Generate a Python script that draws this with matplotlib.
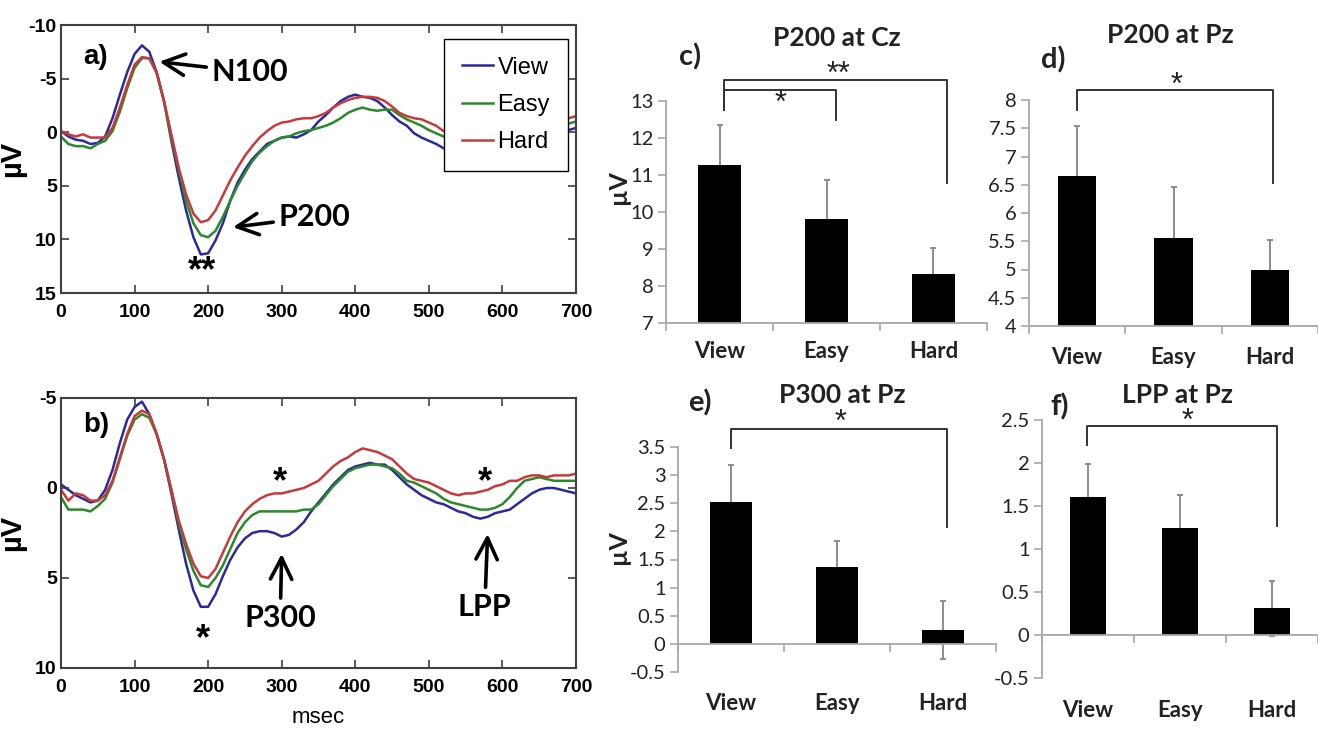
import matplotlib
matplotlib.use("Agg")
import matplotlib.pyplot as plt
import matplotlib.transforms as mtransforms

plt.rcParams["axes.unicode_minus"] = False

W, H = 1318, 731
narrow = ["Liberation Sans Narrow", "Liberation Sans", "DejaVu Sans"]
calib = ["Lato", "DejaVu Sans"]
sans = ["Liberation Sans", "DejaVu Sans"]

# ---------------- data ----------------
time = list(range(0, 701, 10))

# a) grand average at Cz (uV, positive down)
view_a = [-0.1, 0.4, 0.7, 0.8, 1.1, 1.0, 0.4, -1.3, -3.5, -5.6,
          -7.3, -8.1, -7.5, -5.6, -2.9, 0.8, 4.2, 7.3, 9.8, 11.4,
          11.3, 10.1, 8.5, 6.4, 4.7, 3.5, 2.5, 1.8, 1.1, 0.8,
          0.5, 0.4, 0.5, 0.2, -0.2, -1.0, -1.6, -2.3, -2.9, -3.3,
          -3.5, -3.3, -3.2, -2.9, -2.3, -1.6, -1.0, -0.6, 0.1, 0.5,
          0.8, 1.1, 1.5, 1.8, 2.1, 2.3, 2.4, 2.4, 2.3, 2.2,
          2.0, 1.8, 1.5, 1.2, 1.0, 0.8, 0.5, 0.3, 0.0, -0.2, -0.4]
easy_a = [0.4, 1.1, 1.3, 1.3, 1.5, 1.1, 0.8, -0.1, -1.9, -4.1,
          -6.0, -6.9, -6.9, -5.5, -2.9, 0.5, 3.5, 6.4, 8.5, 9.6,
          9.8, 9.2, 7.9, 6.4, 5.0, 3.8, 2.7, 1.9, 1.3, 0.8,
          0.5, 0.4, 0.1, -0.1, -0.2, -0.4, -0.6, -0.9, -1.3, -1.8,
          -2.1, -2.3, -2.1, -2.0, -2.1, -2.1, -1.6, -1.2, -0.9, -0.6,
          -0.2, 0.1, 0.4, 0.7, 0.8, 1.0, 1.1, 1.1, 1.1, 1.0,
          1.0, 0.9, 0.7, 0.6, 0.4, 0.3, 0.1, -0.2, -0.5, -0.8, -1.0]
hard_a = [-0.1, 0.2, 0.4, 0.2, 0.5, 0.5, 0.5, -0.4, -2.3, -4.4,
          -6.3, -7.0, -6.9, -5.6, -2.9, 0.2, 3.3, 5.8, 7.6, 8.4,
          8.2, 7.3, 5.9, 4.5, 3.3, 2.2, 1.3, 0.5, -0.1, -0.6,
          -0.9, -1.0, -1.2, -1.3, -1.3, -1.5, -1.8, -2.3, -2.7, -3.0,
          -3.2, -3.3, -3.3, -3.2, -2.9, -2.4, -1.8, -1.5, -1.3, -1.2,
          -0.9, -0.6, -0.1, 0.2, 0.5, 0.7, 0.8, 0.8, 0.8, 0.8,
          0.7, 0.6, 0.4, 0.2, 0.0, -0.2, -0.5, -0.8, -1.1, -1.3, -1.5]

# b) grand average at Pz
view_b = [-0.2, 0.1, 0.4, 0.6, 0.8, 0.7, 0.1, -1.0, -2.5, -3.8,
          -4.5, -4.8, -4.1, -3.0, -1.6, 0.3, 2.3, 4.2, 5.7, 6.6,
          6.6, 5.9, 4.9, 4.0, 3.3, 2.8, 2.5, 2.4, 2.4, 2.5,
          2.7, 2.6, 2.3, 1.9, 1.3, 0.8, 0.3, -0.2, -0.6, -1.0,
          -1.2, -1.3, -1.4, -1.3, -1.3, -1.0, -0.6, -0.2, 0.1, 0.4,
          0.6, 0.8, 0.9, 1.1, 1.3, 1.4, 1.6, 1.7, 1.6, 1.4,
          1.3, 1.2, 0.9, 0.6, 0.3, 0.1, 0.0, 0.0, 0.1, 0.2, 0.3]
easy_b = [0.5, 1.2, 1.2, 1.2, 1.3, 1.0, 0.6, -0.3, -1.6, -2.9,
          -3.8, -4.1, -3.9, -3.0, -1.6, 0.1, 2.0, 3.4, 4.6, 5.4,
          5.5, 5.0, 4.3, 3.4, 2.5, 1.9, 1.5, 1.3, 1.3, 1.3,
          1.3, 1.3, 1.3, 1.2, 1.2, 0.9, 0.4, -0.1, -0.5, -0.9,
          -1.1, -1.2, -1.3, -1.3, -1.2, -1.1, -0.8, -0.4, -0.3, -0.1,
          0.1, 0.3, 0.6, 0.8, 0.9, 1.0, 1.1, 1.2, 1.2, 1.1,
          0.9, 0.5, 0.0, -0.4, -0.5, -0.6, -0.5, -0.4, -0.4, -0.4, -0.4]
hard_b = [0.1, 0.7, 0.3, 0.4, 0.7, 0.7, 0.4, -0.4, -1.7, -3.0,
          -4.0, -4.3, -4.1, -3.0, -1.6, 0.1, 1.8, 3.1, 4.2, 4.9,
          5.0, 4.5, 3.6, 2.7, 1.9, 1.3, 0.9, 0.6, 0.4, 0.3,
          0.3, 0.2, 0.1, 0.0, -0.2, -0.4, -0.8, -1.2, -1.5, -1.7,
          -2.0, -2.2, -2.1, -2.0, -1.8, -1.6, -1.2, -0.8, -0.5, -0.4,
          -0.3, -0.1, 0.1, 0.3, 0.4, 0.3, 0.3, 0.2, 0.1, -0.1,
          -0.2, -0.4, -0.4, -0.6, -0.7, -0.7, -0.6, -0.7, -0.7, -0.7, -0.8]

# bar panels: mean amplitude and SE
conds = ["View", "Easy", "Hard"]
p200_cz = [11.27, 9.80, 8.32]
p200_cz_se = [1.09, 1.06, 0.72]
p200_pz = [6.66, 5.55, 5.00]
p200_pz_se = [0.88, 0.91, 0.52]
p300_pz = [2.52, 1.37, 0.25]
p300_pz_se = [0.66, 0.46, 0.52]
lpp_pz = [1.60, 1.25, 0.31]
lpp_pz_se = [0.39, 0.38, 0.32]

c_view, c_easy, c_hard = "#2a2a9c", "#2a8a2a", "#c83a3a"


def rect(l, t, r, b):
    return [l / W, 1 - b / H, (r - l) / W, (b - t) / H]


def fpos(x, y):
    return x / W, 1 - y / H


fig = plt.figure(figsize=(W / 100, H / 100), dpi=100)


# ---------------- ERP panels ----------------
def erp_panel(ax, view, easy, hard, ylim, yticks):
    ax.plot(time, view, color=c_view, lw=1.8, label="View")
    ax.plot(time, easy, color=c_easy, lw=1.8, label="Easy")
    ax.plot(time, hard, color=c_hard, lw=1.8, label="Hard")
    ax.set_xlim(0, 700)
    ax.set_ylim(ylim)
    ax.set_xticks(range(0, 701, 100))
    ax.set_yticks(yticks)
    ax.tick_params(direction="in", top=True, right=True, length=6, width=1.2,
                   labelsize=14, color="#404040")
    ax.tick_params(axis="x", pad=8)
    ax.tick_params(axis="y", pad=3)
    for lab in ax.get_xticklabels() + ax.get_yticklabels():
        lab.set_fontfamily(narrow)
        lab.set_fontweight("bold")
    for s in ax.spines.values():
        s.set_linewidth(1.5)
        s.set_color("#404040")
    ax.set_ylabel("µV", fontsize=21, fontweight="bold", family=sans)
    ax.yaxis.set_label_coords(-0.068, 0.5)


arrow = dict(arrowstyle="->,head_length=0.7,head_width=0.35", lw=2.6, color="black")

ax_a = fig.add_axes(rect(61, 25, 576, 293))
erp_panel(ax_a, view_a, easy_a, hard_a, (15, -10), [-10, -5, 0, 5, 10, 15])
ax_a.legend(loc="upper right", bbox_to_anchor=(0.984, 0.948), fancybox=False,
            edgecolor="black", framealpha=1, prop=dict(family=narrow, size=17),
            handlelength=1.3, handletextpad=0.2, labelspacing=0.65,
            borderpad=0.75, borderaxespad=0)
ax_a.text(30, -7.0, "a)", fontsize=20, fontweight="bold", family=sans, va="center")
ax_a.annotate("N100", xy=(130, -6.6), xytext=(205, -5.6), ha="left", va="center",
              fontsize=22, fontweight="bold", family=calib, arrowprops=arrow)
ax_a.annotate("P200", xy=(230, 8.9), xytext=(296, 7.9), ha="left", va="center",
              fontsize=22, fontweight="bold", family=calib, arrowprops=arrow)
ax_a.text(191, 13.0, "**", fontsize=26, fontweight="bold", family=sans,
          ha="center", va="center")

ax_b = fig.add_axes(rect(61, 398, 576, 668))
erp_panel(ax_b, view_b, easy_b, hard_b, (10, -5), [-5, 0, 5, 10])
ax_b.set_xlabel("msec", fontsize=16, family=narrow, labelpad=8)
ax_b.text(30, -3.5, "b)", fontsize=20, fontweight="bold", family=sans, va="center")
ax_b.annotate("P300", xy=(300, 3.5), xytext=(298, 7.2), ha="center", va="center",
              fontsize=22, fontweight="bold", family=calib, arrowprops=arrow)
ax_b.annotate("LPP", xy=(580, 2.4), xytext=(576, 6.6), ha="center", va="center",
              fontsize=22, fontweight="bold", family=calib, arrowprops=arrow)
for sx, sy in [(193, 8.4), (298, -0.3), (576, -0.3)]:
    ax_b.text(sx, sy, "*", fontsize=26, fontweight="bold", family=sans,
              ha="center", va="center")


# ---------------- bar panels ----------------
def bar_panel(ax, vals, errs, ylim, yticks, zero_axis, label_y):
    x = list(range(len(conds)))
    ax.errorbar(x, vals, yerr=errs, fmt="none", ecolor="#858585", elinewidth=1.3,
                capsize=2.5, capthick=1.3, zorder=1)
    ax.bar(x, vals, width=0.4, color="black", zorder=2)
    ax.set_xlim(-0.5, 2.5)
    ax.set_ylim(ylim)
    ax.set_yticks(yticks)
    ax.set_yticklabels([f"{v:g}" for v in yticks])
    ax.set_xticks([-0.5, 0.5, 1.5, 2.5])
    ax.set_xticklabels([])
    for s in ["top", "right"]:
        ax.spines[s].set_visible(False)
    for s in ["left", "bottom"]:
        ax.spines[s].set_color("#a8a8a8")
        ax.spines[s].set_linewidth(1.3)
    if zero_axis:
        ax.spines["bottom"].set_position(("data", 0))
    ax.tick_params(axis="both", direction="out", length=6, width=1.2, color="#a8a8a8")
    ax.tick_params(axis="y", labelsize=14.5, labelcolor="#222222", pad=3)
    for lab in ax.get_yticklabels():
        lab.set_fontfamily(calib)
    trans = mtransforms.blended_transform_factory(ax.transData, ax.transAxes)
    for i, c in enumerate(conds):
        ax.text(i, label_y, c, transform=trans, ha="center", va="center",
                fontsize=16, fontweight="bold", family=calib, color="#222222")


def bracket(ax, x0, x1, ytop, yl, yr, lw=1.4):
    ax.plot([x0, x0, x1, x1], [yl, ytop, ytop, yr], color="#333333", lw=lw,
            clip_on=False, zorder=3)


def star(ax, x, y, s):
    ax.text(x, y, s, ha="center", va="center", fontsize=22, family=sans,
            color="#222222", clip_on=False)


ax_c = fig.add_axes(rect(666, 101, 987, 323))
bar_panel(ax_c, p200_cz, p200_cz_se, (7, 13), [7, 8, 9, 10, 11, 12, 13], False, -0.13)
bracket(ax_c, 0.04, 2.13, 13.57, 12.76, 10.78)
bracket(ax_c, 0.04, 1.09, 13.30, 12.76, 12.49)
star(ax_c, 0.57, 12.92, "*")
star(ax_c, 1.11, 13.70, "**")

ax_d = fig.add_axes(rect(1029, 100, 1318, 326))
bar_panel(ax_d, p200_pz, p200_pz_se, (4, 8), [4, 4.5, 5, 5.5, 6, 6.5, 7, 7.5, 8],
          False, -0.14)
bracket(ax_d, 0.0, 2.03, 8.18, 7.82, 6.53)
star(ax_d, 1.03, 8.25, "*")

ax_e = fig.add_axes(rect(678, 447, 996, 672))
bar_panel(ax_e, p300_pz, p300_pz_se, (-0.5, 3.5),
          [-0.5, 0, 0.5, 1, 1.5, 2, 2.5, 3, 3.5], True, -0.14)
bracket(ax_e, 0.0, 2.04, 3.82, 3.48, 2.07)
star(ax_e, 1.03, 3.93, "*")

ax_f = fig.add_axes(rect(1042, 420, 1318, 678))
bar_panel(ax_f, lpp_pz, lpp_pz_se, (-0.5, 2.5), [-0.5, 0, 0.5, 1, 1.5, 2, 2.5],
          True, -0.125)
bracket(ax_f, -0.01, 2.05, 2.43, 2.21, 1.27)
star(ax_f, 1.08, 2.48, "*")

# titles, panel letters, axis labels
for (x, y, s) in [(837, 38, "P200 at Cz"), (1170, 35, "P200 at Pz"),
                  (842, 395, "P300 at Pz"), (1177, 395, "LPP at Pz")]:
    fig.text(*fpos(x, y), s, ha="center", va="center", fontsize=19,
             fontweight="bold", family=calib, color="#222222")
for (x, y, s) in [(690, 57, "c)"), (1053, 60, "d)"), (700, 403, "e)"), (1060, 407, "f)")]:
    fig.text(*fpos(x, y), s, ha="center", va="center", fontsize=21,
             fontweight="bold", family=calib, color="#222222")
for (x, y) in [(618, 187), (618, 547)]:
    fig.text(*fpos(x, y), "µV", ha="center", va="center", rotation=90,
             fontsize=18, fontweight="bold", family=calib, color="#222222")

fig.savefig("out.png", dpi=100)
